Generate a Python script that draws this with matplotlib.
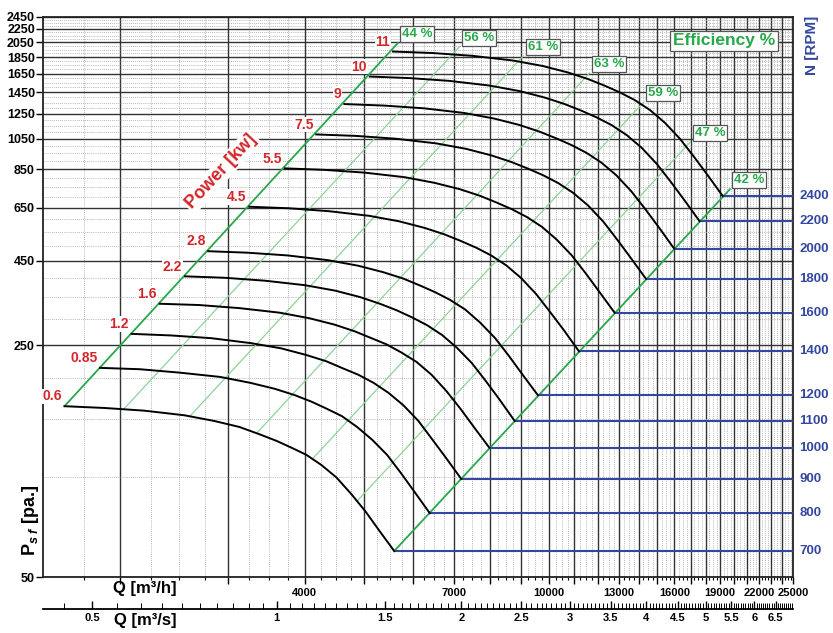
import numpy as np
import matplotlib.pyplot as plt
from matplotlib.ticker import FixedLocator, FuncFormatter, NullFormatter
from matplotlib.transforms import blended_transform_factory

plt.rcParams['font.family'] = ['Liberation Sans', 'DejaVu Sans']
plt.rcParams['font.weight'] = 'bold'
plt.rcParams['mathtext.fontset'] = 'custom'
plt.rcParams['mathtext.rm'] = 'Liberation Sans:bold'
plt.rcParams['mathtext.it'] = 'Liberation Sans:bold:italic'
plt.rcParams['mathtext.bf'] = 'Liberation Sans:bold'

# fan speed of each curve and the motor power written at its start
rpm = [700, 800, 900, 1000, 1100, 1200, 1400, 1600, 1800, 2000, 2200, 2400]
power = ['0.6', '0.85', '1.2', '1.6', '2.2', '2.8', '4.5', '5.5', '7.5', '9', '10', '11']

# Q [m3/h]
curve_q = [
    [1624, 1885, 2190, 2545, 2849, 3129, 3373, 3595, 3803, 4024, 4258, 4504, 4765, 5022, 5293, 5594],
    [1856, 2154, 2503, 2909, 3256, 3576, 3855, 4109, 4347, 4599, 4866, 5148, 5446, 5739, 6049, 6393],
    [2088, 2423, 2816, 3272, 3663, 4023, 4337, 4623, 4890, 5174, 5474, 5791, 6126, 6457, 6806, 7192],
    [2320, 2693, 3129, 3636, 4070, 4470, 4819, 5136, 5433, 5749, 6083, 6435, 6807, 7174, 7562, 7991],
    [2552, 2962, 3442, 3999, 4477, 4917, 5301, 5650, 5977, 6324, 6691, 7078, 7488, 7892, 8318, 8790],
    [2784, 3231, 3755, 4363, 4884, 5364, 5783, 6164, 6520, 6899, 7299, 7722, 8169, 8609, 9074, 9589],
    [3248, 3770, 4381, 5090, 5697, 6258, 6747, 7191, 7607, 8048, 8516, 9008, 9530, 10044, 10586, 11187],
    [3712, 4308, 5007, 5817, 6511, 7152, 7711, 8218, 8693, 9198, 9732, 10295, 10891, 11479, 12099, 12785],
    [4176, 4847, 5633, 6545, 7325, 8046, 8675, 9245, 9780, 10348, 10949, 11582, 12253, 12914, 13611, 14384],
    [4640, 5385, 6258, 7272, 8139, 8940, 9638, 10273, 10867, 11498, 12165, 12869, 13614, 14348, 15123, 15982],
    [5104, 5924, 6884, 7999, 8953, 9834, 10602, 11300, 11953, 12647, 13382, 14156, 14976, 15783, 16636, 17580],
    [5568, 6462, 7510, 8726, 9767, 10728, 11566, 12327, 13040, 13797, 14598, 15443, 16337, 17218, 18148, 19178],
]
# static pressure [Pa]
curve_p = [
    [164, 162, 159, 154, 148, 142, 135, 129, 123, 117, 109, 100, 89, 79, 69, 60],
    [214, 212, 207, 201, 193, 185, 177, 169, 161, 153, 142, 130, 117, 103, 90, 78],
    [271, 268, 263, 254, 245, 234, 224, 213, 204, 193, 180, 165, 148, 130, 114, 99],
    [334, 331, 324, 314, 302, 289, 276, 263, 252, 238, 223, 204, 182, 161, 141, 123],
    [404, 400, 392, 380, 366, 350, 334, 319, 304, 288, 269, 246, 221, 195, 171, 148],
    [481, 476, 467, 452, 435, 416, 398, 379, 362, 343, 321, 293, 263, 232, 203, 177],
    [655, 648, 635, 615, 592, 566, 541, 516, 493, 467, 436, 399, 357, 315, 277, 240],
    [855, 846, 830, 804, 773, 740, 707, 674, 644, 610, 570, 521, 467, 412, 361, 314],
    [1082, 1071, 1050, 1017, 979, 936, 894, 853, 815, 772, 721, 660, 591, 521, 457, 397],
    [1336, 1322, 1297, 1256, 1208, 1156, 1104, 1053, 1006, 953, 890, 815, 729, 644, 565, 490],
    [1617, 1600, 1569, 1519, 1462, 1398, 1336, 1275, 1218, 1154, 1077, 986, 882, 779, 683, 593],
    [1924, 1904, 1867, 1808, 1740, 1664, 1590, 1517, 1449, 1373, 1282, 1173, 1050, 927, 813, 706],
]

# efficiency lines: start on the 700 rpm curve, end at the label box
eff_labels = ['44 %', '56 %', '61 %', '63 %', '59 %', '47 %', '42 %']
eff_q0 = [1624, 2030, 2600, 3340, 4120, 4870, 5594]
eff_p0 = [164, 161, 153, 136, 114, 85, 60]
eff_q1 = [5670, 7144, 9080, 11647, 14272, 16995, 19710]
eff_p1 = [2040, 1987, 1867, 1659, 1357, 1028, 740]

y_ticks = [50, 250, 450, 650, 850, 1050, 1250, 1450, 1650, 1850, 2050, 2250, 2450]
qh_labels = [4000, 7000, 10000, 13000, 16000, 19000, 22000, 25000]
qs_labels = [0.5, 1, 1.5, 2, 2.5, 3, 3.5, 4, 4.5, 5, 5.5, 6, 6.5]

red = '#d3262b'
green = '#27a84a'
light_green = '#8cd497'
blue = '#3447a0'

fig = plt.figure(figsize=(8.33, 6.33), dpi=100)
ax = fig.add_axes([0.052, 0.088, 0.9004, 0.8856])
ax.set_xscale('log')
ax.set_yscale('log')
ax.set_xlim(1500, 25000)
ax.set_ylim(50, 2450)

ax.xaxis.set_major_locator(FixedLocator(np.arange(2000, 25001, 1000)))
ax.xaxis.set_minor_locator(FixedLocator(np.arange(1750, 25000, 250)))
ax.xaxis.set_major_formatter(FuncFormatter(
    lambda v, p: f'{int(round(v))}' if int(round(v)) in qh_labels else ''))
ax.xaxis.set_minor_formatter(NullFormatter())
ax.yaxis.set_major_locator(FixedLocator(y_ticks))
ax.yaxis.set_minor_locator(FixedLocator(np.arange(100, 2450, 50)))
ax.yaxis.set_major_formatter(FuncFormatter(lambda v, p: f'{int(round(v))}'))
ax.yaxis.set_minor_formatter(NullFormatter())

ax.set_axisbelow(True)
ax.grid(which='major', color='#333333', lw=1.0)
ax.grid(which='minor', color='#a0a0a0', lw=0.6, ls=(0, (1, 1.5)))
ax.tick_params(axis='y', which='major', length=5, width=1, labelsize=9, pad=1)
ax.tick_params(axis='y', which='minor', length=0)
ax.tick_params(axis='x', which='major', length=5, width=1, labelsize=8, pad=3)
ax.tick_params(axis='x', which='minor', length=2, width=0.8)
for s in ax.spines.values():
    s.set_linewidth(1.3)
    s.set_color('#222222')

# efficiency lines
for i in range(len(eff_labels)):
    main = i in (0, len(eff_labels) - 1)
    ax.plot([eff_q0[i], eff_q1[i]], [eff_p0[i], eff_p1[i]],
            color=green if main else light_green, lw=1.3 if main else 0.9, zorder=3)
    ax.annotate(eff_labels[i], (eff_q1[i], eff_p1[i]), xytext=(3, 2),
                textcoords='offset points', ha='left', va='bottom', color=green,
                fontsize=9.5, fontweight='bold', zorder=6,
                bbox=dict(boxstyle='square,pad=0.15', fc='white', ec='#555555', lw=0.9))

# fan curves, power labels and speed lines
tr = blended_transform_factory(ax.transAxes, ax.transData)
for q, p, n, pw in zip(curve_q, curve_p, rpm, power):
    ax.plot(q, p, color='black', lw=1.4, zorder=4, solid_joinstyle='round')
    ax.hlines(p[-1], q[-1], 25000, color=blue, lw=1.5, zorder=3)
    ax.annotate(pw, (q[0], p[0]), xytext=(-2, 2), textcoords='offset points',
                ha='right', va='bottom', color=red, fontsize=10, fontweight='bold',
                zorder=6, bbox=dict(boxstyle='square,pad=0.05', fc='white', ec='none'))
    ax.text(1.008, p[-1], str(n), transform=tr, ha='left', va='center',
            color=blue, fontsize=9.5, fontweight='bold', clip_on=False)

ax.text(2922, 836, 'Power [kw]', rotation=47, ha='center', va='center',
        color=red, fontsize=13, fontweight='bold', zorder=6,
        bbox=dict(boxstyle='square,pad=0.1', fc='white', ec='none'))
ax.text(0.976, 0.957, 'Efficiency %', transform=ax.transAxes, ha='right',
        va='center', color=green, fontsize=12.5, fontweight='bold', zorder=6,
        bbox=dict(boxstyle='square,pad=0.15', fc='white', ec='#555555', lw=0.9))

# second flow scale in m3/s
ax2 = fig.add_axes([0.052, 0.0374, 0.9004, 0.0001])
ax2.set_xscale('log')
ax2.set_xlim(1500 / 3600, 25000 / 3600)
ax2.set_yticks([])
ax2.patch.set_alpha(0)
for s in ['top', 'left', 'right']:
    ax2.spines[s].set_visible(False)
ax2.spines['bottom'].set_linewidth(1.3)
ax2.xaxis.set_major_locator(FixedLocator(qs_labels))
ax2.xaxis.set_major_formatter(FuncFormatter(lambda v, p: f'{v:g}'))
ax2.xaxis.set_minor_locator(FixedLocator(np.arange(0.45, 6.95, 0.05)))
ax2.xaxis.set_minor_formatter(NullFormatter())
ax2.tick_params(axis='x', which='major', direction='in', length=6, width=1,
                labelsize=8, pad=3)
ax2.tick_params(axis='x', which='minor', direction='in', length=4, width=0.7)

fig.text(145 / 833, 1 - 589 / 633, 'Q [m³/h]', ha='center', va='center', fontsize=12)
fig.text(145 / 833, 1 - 621 / 633, 'Q [m³/s]', ha='center', va='center', fontsize=12)
fig.text(31 / 833, 1 - 520 / 633, r'P$_{s\ f}$ [pa.]', rotation=90,
         ha='center', va='center', fontsize=13)
fig.text(812 / 833, 1 - 45 / 633, 'N [RPM]', rotation=90, ha='center',
         va='center', color=blue, fontsize=11)

fig.savefig('out.png', dpi=100)
